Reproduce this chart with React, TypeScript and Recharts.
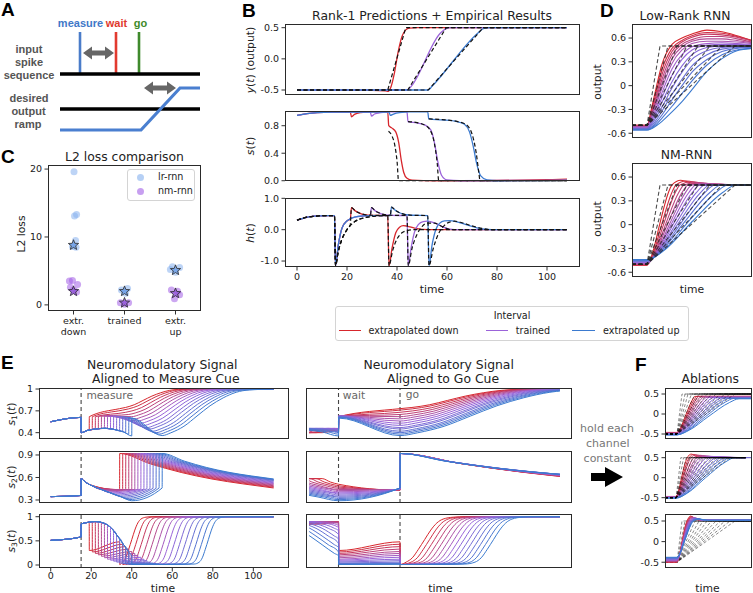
import React from 'react';
import { LineChart, Line, XAxis, YAxis, ReferenceLine, ScatterChart, Scatter, ComposedChart } from 'recharts';

const DV = '"DejaVu Sans", sans-serif';
const AR = '"Liberation Sans", Arial, sans-serif';
const INK = '#1a1a1a';
const RED = '#d7262c';
const PURPLE = '#9b63d9';
const BLUE = '#3b7acf';

// ---------------- Panel A (schematic, chart units = px inside the panel) ----------------
const A_INPUT = [[5, 46], [145, 46]];
const A_MEASURE = [[25, 4], [25, 45]];
const A_WAIT = [[61, 4], [61, 45]];
const A_GO = [[84, 4], [84, 45]];
const A_OUTPUT = [[5, 81], [145, 81]];
const A_RAMP = [[5, 102], [86, 102], [125, 60], [145, 60]];
const A_ARROWS = [{ x: 43.5, y: 25, len: 31 }, { x: 105, y: 60, len: 32 }];

// ---------------- Panel B ----------------
const B_TICKS_X = [0, 20, 40, 60, 80, 100];
const B_Y_RED = [[0, -0.5], [30, -0.505], [35.5, -0.515], [36.5, -0.52], [37.5, -0.46], [39, -0.22], [40.5, 0.12], [42, 0.36], [43.5, 0.465], [45, 0.493], [48, 0.5], [108, 0.5]];
const B_Y_RED_T = [[0, -0.5], [36.3, -0.5], [43.5, 0.5], [108, 0.5]];
const B_Y_PURPLE = [[0, -0.5], [44, -0.5], [45, -0.47], [57.5, 0.42], [59.5, 0.48], [61.5, 0.5], [108, 0.5]];
const B_Y_PURPLE_T = [[0, -0.5], [44.3, -0.5], [59.7, 0.5], [108, 0.5]];
const B_Y_BLUE = [[0, -0.5], [52.5, -0.5], [54, -0.44], [72.5, 0.42], [74.5, 0.485], [77, 0.5], [108, 0.5]];
const B_Y_BLUE_T = [[0, -0.5], [52.5, -0.5], [74.5, 0.5], [108, 0.5]];

const B_S_RED = [[0, 0.95], [4, 0.975], [8, 0.99], [14, 0.998], [21.3, 1.0], [21.8, 0.93], [23, 0.965], [25.5, 0.99], [29, 1.0], [36.3, 1.0], [36.7, 0.8], [38, 0.765], [39.5, 0.71], [40.7, 0.55], [41.7, 0.3], [42.7, 0.12], [44, 0.035], [46, 0.008], [55, 0.0], [80, 0.004], [100, 0.015], [108, 0.022]];
const B_S_RED_T = [[36.6, 0.72], [38, 0.65], [39.2, 0.5], [40.1, 0.25], [40.6, 0.0], [108, 0.0]];
const B_S_PURPLE = [[0, 0.95], [4, 0.975], [8, 0.99], [14, 0.998], [29.3, 1.0], [29.8, 0.94], [31, 0.97], [33.5, 0.99], [37, 1.0], [44, 1.0], [44.4, 0.86], [48, 0.84], [51.5, 0.805], [53.5, 0.74], [55, 0.55], [56.3, 0.28], [57.8, 0.08], [60, 0.012], [65, 0.0], [108, 0.008]];
const B_S_PURPLE_T = [[44.4, 0.86], [48, 0.845], [51, 0.81], [53, 0.75], [54.8, 0.57], [56.1, 0.25], [56.7, 0.0], [108, 0.0]];
const B_S_BLUE = [[0, 0.95], [4, 0.975], [8, 0.99], [14, 0.998], [36.8, 1.0], [37.3, 0.95], [38.6, 0.97], [41, 0.99], [45, 1.0], [52.3, 1.0], [52.7, 0.9], [58, 0.885], [64, 0.86], [67, 0.82], [69, 0.71], [70.5, 0.5], [71.8, 0.26], [73.5, 0.07], [76, 0.012], [80, 0.0], [108, 0.004]];
const B_S_BLUE_T = [[52.7, 0.9], [58, 0.888], [64, 0.862], [67.5, 0.82], [70, 0.68], [71.7, 0.4], [72.8, 0.1], [73.2, 0.0], [108, 0.0]];

const B_H_START = [[0, 0.3], [3, 0.38], [7, 0.43], [12, 0.45], [15, 0.45], [15.4, -1.15], [16.5, -0.5], [18, 0.05], [20, 0.28]];
const B_H_RED = [...B_H_START, [21.3, 0.33], [21.8, 0.7], [23.3, 0.6], [25, 0.53], [27, 0.48], [30, 0.455], [36.3, 0.45], [36.8, -1.15], [38, -0.6], [39.5, -0.1], [41, 0.08], [42.5, 0.13], [44, 0.115], [47, 0.05], [50, 0.012], [55, 0.0], [108, 0.0]];
const B_H_PURPLE = [...B_H_START, [23, 0.4], [27, 0.44], [29.3, 0.45], [29.8, 0.7], [31.3, 0.6], [33, 0.53], [35, 0.48], [38, 0.455], [44, 0.45], [44.5, -1.15], [45.6, -0.6], [47, -0.08], [48.5, 0.16], [50.5, 0.26], [52, 0.27], [55, 0.22], [58, 0.1], [61, 0.02], [65, 0.0], [108, 0.0]];
const B_H_BLUE = [...B_H_START, [23, 0.4], [27, 0.44], [30, 0.45], [37.3, 0.45], [37.8, 0.72], [39.3, 0.62], [41, 0.54], [43, 0.49], [46, 0.46], [52.3, 0.45], [52.8, -1.15], [54, -0.5], [55.5, 0.0], [57, 0.2], [59, 0.28], [61, 0.29], [64, 0.25], [68, 0.15], [72, 0.06], [76, 0.012], [80, 0.0], [108, 0.0]];
const B_HT_START = [[0, 0.3], [3, 0.38], [7, 0.43], [12, 0.45], [15, 0.45], [15.4, -1.15], [16.5, -0.7], [18, -0.3], [20, 0.0]];
const B_H_RED_T = [...B_HT_START, [21.3, 0.15], [21.8, 0.7], [23.3, 0.6], [25, 0.53], [27, 0.48], [30, 0.46], [36.3, 0.45], [36.8, -1.15], [38.3, -0.65], [40, -0.3], [42, -0.1], [44, -0.03], [47, 0.0], [108, 0.0]];
const B_H_PURPLE_T = [...B_HT_START, [23, 0.25], [27, 0.38], [29.3, 0.42], [29.8, 0.7], [31.3, 0.6], [33, 0.53], [35, 0.48], [38, 0.46], [44, 0.45], [44.5, -1.15], [46, -0.6], [48, -0.15], [50, 0.1], [52, 0.21], [55, 0.21], [58, 0.1], [62, 0.0], [108, 0.0]];
const B_H_BLUE_T = [...B_HT_START, [23, 0.25], [27, 0.38], [30, 0.42], [35, 0.445], [37.3, 0.45], [37.8, 0.72], [39.3, 0.62], [41, 0.54], [43, 0.49], [46, 0.46], [52.3, 0.45], [52.8, -1.15], [54.5, -0.6], [56.5, -0.15], [58.5, 0.1], [61, 0.24], [63, 0.27], [66, 0.22], [70, 0.12], [74, 0.04], [78, 0.0], [108, 0.0]];

// ---------------- Panel C ----------------
const C_CATEGORIES = [['extr.', 'down'], ['trained'], ['extr.', 'up']];
const C_LR = [
  { x: 0.01, y: 19.6 }, { x: 0.06, y: 13.3 }, { x: 0.02, y: 13.1 }, { x: 0.04, y: 9.5 }, { x: -0.02, y: 8.6 }, { x: 0.05, y: 8.5 },
  { x: 0.94, y: 2.2 }, { x: 1.06, y: 2.4 }, { x: 1.02, y: 1.7 },
  { x: 1.94, y: 5.6 }, { x: 2.08, y: 5.5 }, { x: 2.0, y: 4.8 }, { x: 1.9, y: 5.2 },
];
const C_NM = [
  { x: -0.08, y: 3.5 }, { x: -0.02, y: 3.6 }, { x: 0.08, y: 3.0 }, { x: 0.0, y: 2.2 }, { x: 0.06, y: 1.9 }, { x: -0.06, y: 2.6 },
  { x: 0.92, y: 0.3 }, { x: 1.08, y: 0.3 }, { x: 1.0, y: 0.1 },
  { x: 1.92, y: 2.2 }, { x: 2.08, y: 1.5 }, { x: 1.98, y: 0.9 }, { x: 2.04, y: 2.0 },
];
const C_LR_MEDIAN = [{ x: 0, y: 8.8 }, { x: 1, y: 2.0 }, { x: 2, y: 5.1 }];
const C_NM_MEDIAN = [{ x: 0, y: 2.0 }, { x: 1, y: 0.3 }, { x: 2, y: 1.7 }];

// ---------------- Panel D ----------------
const D_GO = 15;
const D_END = 120;
const D_T = [0, 15, 20, 25, 30, 40, 50, 60, 75, 90, 105, 120];
const D_LR = [
  [-0.50, -0.50, -0.26, 0.02, 0.27, 0.52, 0.60, 0.65, 0.70, 0.68, 0.63, 0.57],
  [-0.50, -0.50, -0.29, -0.04, 0.20, 0.47, 0.57, 0.63, 0.67, 0.66, 0.62, 0.57],
  [-0.51, -0.51, -0.32, -0.09, 0.14, 0.43, 0.55, 0.61, 0.65, 0.64, 0.61, 0.56],
  [-0.51, -0.51, -0.34, -0.13, 0.08, 0.39, 0.52, 0.58, 0.62, 0.62, 0.59, 0.55],
  [-0.52, -0.52, -0.36, -0.17, 0.03, 0.34, 0.49, 0.56, 0.59, 0.59, 0.57, 0.54],
  [-0.52, -0.52, -0.38, -0.21, -0.03, 0.28, 0.45, 0.53, 0.56, 0.56, 0.55, 0.53],
  [-0.53, -0.53, -0.41, -0.26, -0.09, 0.21, 0.39, 0.49, 0.53, 0.54, 0.53, 0.52],
  [-0.53, -0.53, -0.43, -0.30, -0.15, 0.13, 0.33, 0.45, 0.51, 0.52, 0.52, 0.51],
  [-0.54, -0.54, -0.46, -0.34, -0.21, 0.05, 0.25, 0.39, 0.48, 0.50, 0.50, 0.50],
  [-0.54, -0.54, -0.48, -0.38, -0.27, -0.03, 0.17, 0.33, 0.44, 0.48, 0.49, 0.49],
  [-0.55, -0.55, -0.50, -0.42, -0.32, -0.11, 0.08, 0.25, 0.39, 0.46, 0.48, 0.48],
  [-0.55, -0.55, -0.52, -0.45, -0.37, -0.18, 0.00, 0.17, 0.33, 0.43, 0.47, 0.48],
  [-0.56, -0.56, -0.53, -0.48, -0.41, -0.26, -0.10, 0.06, 0.26, 0.39, 0.45, 0.47],
  [-0.56, -0.56, -0.54, -0.50, -0.45, -0.33, -0.20, -0.05, 0.18, 0.34, 0.44, 0.47],
];
const D_TARGET_END = [28, 36, 45, 55, 66, 78, 90, 103];
const NM_START = [-0.51, -0.51, -0.5, -0.5, -0.49, -0.49, -0.48, -0.48, -0.47, -0.46, -0.46, -0.45, -0.45, -0.44];
const NM_REACH = [40, 44, 48, 52, 56, 60, 64, 68, 73, 78, 83, 89, 96, 104];
const NM_OVER = [0.06, 0.05, 0.04, 0.03, 0.02, 0.012, 0.006, 0, 0, 0, 0, 0, 0, 0];

// ---------------- Panel E ----------------
const E_WAIT = [19, 20.5, 22, 23.5, 25, 26.5, 28, 29.5, 31, 32.5, 34, 35.5, 37, 38.5, 40];
const E_GO_DELAY = 15;
const E_END = 110;
const E_WAIT_POS = 4; // position of wait cue on the aligned axis
const E_N = E_WAIT.length;

const S1_PRE = [[0, 0.55], [15, 0.61]];
const S1_PATH = [[15.01, 0.40], [18, 0.43], [22, 0.45], [27, 0.46], [32, 0.44], [36, 0.41], [40, 0.355]];
const S1_AT_WAIT = [0.435, 0.443, 0.45, 0.453, 0.456, 0.459, 0.456, 0.45, 0.444, 0.436, 0.425, 0.414, 0.4, 0.38, 0.355];
const S1_JUMP = [0.62, 0.62, 0.62, 0.625, 0.63, 0.63, 0.63, 0.63, 0.63, 0.625, 0.62, 0.62, 0.615, 0.61, 0.6];
const S1_AT_GO = [0.73, 0.71, 0.68, 0.65, 0.62, 0.59, 0.56, 0.53, 0.5, 0.47, 0.45, 0.42, 0.4, 0.38, 0.36];
const S1_RISE_DUR = [29, 30, 31, 32, 33, 34, 35, 36, 37, 38, 39, 40, 41, 42, 43];
const S1_RISE = [[0.1, 0.06], [0.25, 0.2], [0.4, 0.42], [0.55, 0.64], [0.7, 0.81], [0.85, 0.93], [1, 0.98]];

const S2_PRE = [[0, 0.345], [15, 0.36]];
const S2_PATH = [[15.01, 0.585], [17, 0.54], [20, 0.495], [25, 0.44], [30, 0.39], [35, 0.34], [40, 0.29]];
const S2_AT_WAIT = [0.51, 0.49, 0.472, 0.456, 0.44, 0.425, 0.41, 0.395, 0.38, 0.365, 0.35, 0.335, 0.32, 0.305, 0.29];
const S2_BEFORE_GO = [0.43, 0.43, 0.435, 0.435, 0.44, 0.44, 0.44, 0.445, 0.445, 0.45, 0.45, 0.455, 0.455, 0.46, 0.46];
const S2_PEAK = 0.92;
const S2_FINAL = [0.46, 0.47, 0.48, 0.49, 0.5, 0.51, 0.52, 0.53, 0.54, 0.55, 0.56, 0.565, 0.57, 0.575, 0.58];
const S2_DECAY = [[0.2, 0.3], [0.4, 0.55], [0.6, 0.74], [0.8, 0.88], [1, 1]];

const S3_PRE = [[0, 0.51], [15, 0.58]];
const S3_PATH = [[15.01, 0.85], [18, 0.88], [22, 0.9], [26, 0.87], [30, 0.76], [33, 0.6], [36, 0.42], [39, 0.24], [42, 0.1], [45, 0.03], [48, 0.005]];
const S3_AT_WAIT = [0.885, 0.895, 0.9, 0.89, 0.88, 0.86, 0.82, 0.78, 0.71, 0.63, 0.54, 0.45, 0.36, 0.27, 0.19];
const S3_AFTER_WAIT = [0.3, 0.27, 0.24, 0.21, 0.18, 0.15, 0.12, 0.1, 0.08, 0.06, 0.04, 0.03, 0.02, 0.015, 0.01];
const S3_BEFORE_GO = [0.48, 0.43, 0.38, 0.33, 0.28, 0.24, 0.2, 0.16, 0.12, 0.09, 0.06, 0.04, 0.03, 0.02, 0.015];
const S3_AFTER_GO = 0.01;
const S3_MID = [6, 7.2, 8.4, 9.6, 10.8, 12, 13.2, 14.4, 15.6, 16.8, 18, 19.2, 20.4, 21.6, 22.8];
const S3_SIG = [[-7, 0.01], [-4.5, 0.05], [-3, 0.14], [-1.5, 0.32], [0, 0.52], [1.5, 0.72], [3, 0.87], [4.5, 0.95], [7, 0.99], [10, 1.0]];

// ---------------- Panel F ----------------
const F_GO = 12;
const F_END = 87;
const F_TARGET_END = [17, 20, 23, 26.5, 30, 34, 38, 42, 46.5, 51, 55.5, 60, 65, 70];
const F1_START = [-0.46, -0.47, -0.47, -0.48, -0.48, -0.49, -0.49, -0.5, -0.5, -0.51, -0.51, -0.52, -0.52, -0.52];
const F1_REACH = [30, 32, 34, 36, 39, 42, 45, 48, 52, 56, 60, 64, 69, 74];
const F1_LEVEL = [0.44, 0.44, 0.44, 0.43, 0.43, 0.42, 0.42, 0.41, 0.41, 0.4, 0.4, 0.39, 0.39, 0.38];
const F2_START = [-0.47, -0.47, -0.48, -0.48, -0.48, -0.49, -0.49, -0.49, -0.5, -0.5, -0.5, -0.5, -0.51, -0.51];
const F2_REACH = [24, 26, 28, 31, 34, 37, 41, 45, 50, 55, 60, 65, 70, 75];
const F2_OVER = [0.09, 0.08, 0.07, 0.06, 0.05, 0.04, 0.03, 0.02, 0.01, 0.005, 0, 0, 0, 0];
const F3_START = [-0.5, -0.5, -0.49, -0.48, -0.47, -0.46, -0.45, -0.44, -0.43, -0.42, -0.41, -0.4, -0.39, -0.38];
const F3_REACH = [22, 22.5, 23, 23.5, 24, 24.5, 25, 25.5, 26, 26.5, 27, 27.5, 28, 28.5];
const F3_OVER = [0.12, 0.11, 0.1, 0.09, 0.085, 0.08, 0.075, 0.07, 0.065, 0.06, 0.055, 0.05, 0.05, 0.05];

// ---------------- helpers ----------------
function mix(a: string, b: string, t: number) {
  const pa = [1, 3, 5].map((k) => parseInt(a.slice(k, k + 2), 16));
  const pb = [1, 3, 5].map((k) => parseInt(b.slice(k, k + 2), 16));
  return 'rgb(' + pa.map((v, j) => Math.round(v + (pb[j] - v) * t)).join(',') + ')';
}
function fam(i: number, n: number) {
  const t = i / (n - 1);
  return t < 0.5 ? mix(RED, PURPLE, t * 2) : mix(PURPLE, BLUE, (t - 0.5) * 2);
}
function ramp(go: number, S: number, R: number, L: number, O: number, Lend: number, tEnd: number) {
  const d = R - go;
  const p: number[][] = [[0, S], [go, S], [go + 0.2 * d, S + 0.13 * (L - S)], [go + 0.5 * d, S + 0.5 * (L - S)], [go + 0.85 * d, S + 0.9 * (L - S)], [R, L]];
  if (O > 0) p.push([R + 0.35 * d, L + O], [R + 0.9 * d, L + 0.3 * O]);
  p.push([tEnd, Lend]);
  return p;
}
function align(pts: number[][], w: number, aligned: boolean) {
  return aligned ? pts.map(([t, y]) => [t - w + E_WAIT_POS, y]) : pts;
}
function buildS1(i: number, aligned: boolean) {
  const w = E_WAIT[i], g = w + E_GO_DELAY, v = S1_AT_GO[i], d = S1_RISE_DUR[i];
  const head = aligned ? [[0, S1_PATH[0][1]]] : S1_PRE;
  const pts = [
    ...head,
    ...S1_PATH.filter((p) => p[0] < w - 0.3),
    [w, S1_AT_WAIT[i]],
    [w + 0.05, S1_JUMP[i]],
    [g, v],
    ...S1_RISE.map(([u, f]) => [g + u * d, v + f * (1 - v)]),
    [E_END, 1],
  ];
  return align(pts, w, aligned);
}
function buildS2(i: number, aligned: boolean) {
  const w = E_WAIT[i], g = w + E_GO_DELAY;
  const head = aligned ? [[0, S2_PATH[0][1]]] : S2_PRE;
  const pts = [
    ...head,
    ...S2_PATH.filter((p) => p[0] < w - 0.3),
    [w, S2_AT_WAIT[i]],
    [g, S2_BEFORE_GO[i]],
    [g + 0.05, S2_PEAK],
    ...S2_DECAY.map(([u, f]) => [g + u * (E_END - g), S2_PEAK - f * (S2_PEAK - S2_FINAL[i])]),
  ];
  return align(pts, w, aligned);
}
function buildS3(i: number, aligned: boolean) {
  const w = E_WAIT[i], g = w + E_GO_DELAY, m = S3_MID[i];
  const head = aligned ? [[0, S3_PATH[0][1]]] : S3_PRE;
  const pts = [
    ...head,
    ...S3_PATH.filter((p) => p[0] < w - 0.3),
    [w, S3_AT_WAIT[i]],
    [w + 0.05, S3_AFTER_WAIT[i]],
    [g, S3_BEFORE_GO[i]],
    [g + 0.05, S3_AFTER_GO],
    ...S3_SIG.filter(([dt]) => m + dt > 0.4).map(([dt, f]) => [g + m + dt, S3_AFTER_GO + f * (1 - S3_AFTER_GO)]),
    [E_END, 1],
  ];
  return align(pts, w, aligned);
}

type Ser = { pts: number[][]; color: string; w?: number; dash?: string; op?: number; lin?: boolean };

const bY: Ser[] = [
  { pts: B_Y_RED, color: RED, w: 1.3 }, { pts: B_Y_PURPLE, color: PURPLE, w: 1.3 }, { pts: B_Y_BLUE, color: BLUE, w: 1.3 },
  { pts: B_Y_RED_T, color: '#111', dash: '4 2.5', lin: true, w: 1.2 }, { pts: B_Y_PURPLE_T, color: '#111', dash: '4 2.5', lin: true, w: 1.2 }, { pts: B_Y_BLUE_T, color: '#111', dash: '4 2.5', lin: true, w: 1.2 },
];
const bS: Ser[] = [
  { pts: B_S_RED, color: RED, w: 1.3 }, { pts: B_S_PURPLE, color: PURPLE, w: 1.3 }, { pts: B_S_BLUE, color: BLUE, w: 1.3 },
  { pts: B_S_RED_T, color: '#111', dash: '4 2.5', w: 1.2 }, { pts: B_S_PURPLE_T, color: '#111', dash: '4 2.5', w: 1.2 }, { pts: B_S_BLUE_T, color: '#111', dash: '4 2.5', w: 1.2 },
];
const bH: Ser[] = [
  { pts: B_H_RED, color: RED, w: 1.3 }, { pts: B_H_PURPLE, color: PURPLE, w: 1.3 }, { pts: B_H_BLUE, color: BLUE, w: 1.3 },
  { pts: B_H_RED_T, color: '#111', dash: '4 2.5', w: 1.2 }, { pts: B_H_PURPLE_T, color: '#111', dash: '4 2.5', w: 1.2 }, { pts: B_H_BLUE_T, color: '#111', dash: '4 2.5', w: 1.2 },
];

const dTargets: Ser[] = D_TARGET_END.map((T) => ({ pts: [[0, -0.5], [D_GO, -0.5], [T, 0.5], [D_END, 0.5]], color: '#222', dash: '4 2.5', lin: true, op: 0.8, w: 1.1 }));
const dLR: Ser[] = [...D_LR.map((row, i) => ({ pts: row.map((v, k) => [D_T[k], v]), color: fam(i, D_LR.length), w: 1.1 })), ...dTargets];
const dNM: Ser[] = [...NM_REACH.map((R, i) => ({ pts: ramp(D_GO, NM_START[i], R, 0.5, NM_OVER[i], 0.5, D_END), color: fam(i, NM_REACH.length), w: 1.1 })), ...dTargets];

const fTargets: Ser[] = F_TARGET_END.map((T) => ({ pts: [[0, -0.5], [F_GO, -0.5], [T, 0.5], [F_END, 0.5]], color: '#000', dash: '3 2', lin: true, op: 0.45, w: 1 }));
const f1: Ser[] = [...F1_REACH.map((R, i) => ({ pts: ramp(F_GO, F1_START[i], R, F1_LEVEL[i], 0, F1_LEVEL[i], F_END), color: fam(i, 14), w: 1 })), ...fTargets];
const f2: Ser[] = [...F2_REACH.map((R, i) => ({ pts: ramp(F_GO, F2_START[i], R, 0.5, F2_OVER[i], 0.5, F_END), color: fam(i, 14), w: 1 })), ...fTargets];
const f3: Ser[] = [...fTargets, ...F3_REACH.map((R, i) => ({ pts: ramp(F_GO, F3_START[i], R, 0.5, F3_OVER[i], 0.52, F_END), color: fam(i, 14), w: 1 }))];

const eIdx = E_WAIT.map((_, i) => i);
const e1L: Ser[] = eIdx.map((i) => ({ pts: buildS1(i, false), color: fam(i, E_N), w: 1 }));
const e2L: Ser[] = eIdx.map((i) => ({ pts: buildS2(i, false), color: fam(i, E_N), w: 1 }));
const e3L: Ser[] = eIdx.map((i) => ({ pts: buildS3(i, false), color: fam(i, E_N), w: 1 }));
const e1R: Ser[] = eIdx.map((i) => ({ pts: buildS1(i, true), color: fam(i, E_N), w: 1 }));
const e2R: Ser[] = eIdx.map((i) => ({ pts: buildS2(i, true), color: fam(i, E_N), w: 1 }));
const e3R: Ser[] = eIdx.map((i) => ({ pts: buildS3(i, true), color: fam(i, E_N), w: 1 }));

const TICK = { fontSize: 9.5, fill: '#222', fontFamily: DV };
const TL = { stroke: INK, strokeWidth: 0.9 };
const fmt1 = (v: number) => v.toFixed(1);
const fmtInt = (v: number) => String(v);
const fmtE1 = (v: number) => (v === 1 ? '1' : v.toFixed(1));
const fmtE3 = (v: number) => (v === 0.5 ? '0.5' : String(v));
const fmtZ = (v: number) => (v === 0 ? '0' : v.toFixed(1));

function Plot(p: any) {
  const { l, t, w, h, xd, yd, xt, yt, xf, yf, series, refs, clip, frame, xtm } = p;
  const YW = 40, MT = 9, MR = 3;
  const XH = xf ? 24 : 8;
  const fr = frame || { l, t, w, h };
  return (
    <>
      <div style={{ position: 'absolute', left: l - YW, top: t - MT }}>
        <LineChart width={w + YW + MR} height={h + MT + XH} margin={{ top: MT, right: MR, bottom: 0, left: 0 }}>
          <XAxis type="number" dataKey="x" domain={xd} ticks={xt} interval={0} allowDataOverflow={!!clip} height={XH}
            axisLine={false} tickSize={3.5} tickMargin={xtm ?? 2.5} tickLine={TL} tick={xf ? TICK : false} tickFormatter={xf} />
          <YAxis type="number" dataKey="y" domain={yd} ticks={yt || []} interval={0} width={YW}
            axisLine={false} tickSize={3.5} tickMargin={2.5} tickLine={yt ? TL : false} tick={yf ? TICK : false} tickFormatter={yf} />
          {(refs || []).map((x: number) => (
            <ReferenceLine key={'r' + x} x={x} stroke="#444" strokeDasharray="4 3" strokeWidth={1.1} />
          ))}
          {series.map((s: Ser, i: number) => (
            <Line key={i} data={s.pts.map(([x, y]) => ({ x, y }))} dataKey="y" type={s.lin ? 'linear' : 'monotone'}
              stroke={s.color} strokeWidth={s.w ?? 1} strokeDasharray={s.dash} strokeOpacity={s.op ?? 1}
              dot={false} activeDot={false} isAnimationActive={false} />
          ))}
        </LineChart>
      </div>
      <div style={{ position: 'absolute', left: fr.l, top: fr.t, width: fr.w, height: fr.h, border: '1px solid #2a2a2a', boxSizing: 'border-box', pointerEvents: 'none' }} />
    </>
  );
}

const Txt = ({ x, y, children, size = 12.4, color = '#222', font = DV, weight = 'normal', rot = false, anchor = 'middle' }: any) => (
  <div style={{
    position: 'absolute', left: x, top: y,
    transform: `translate(${anchor === 'start' ? '0' : '-50%'},-50%)${rot ? ' rotate(-90deg)' : ''}`,
    fontSize: size, color, fontFamily: font, fontWeight: weight, lineHeight: 1, whiteSpace: 'nowrap',
  }}>{children}</div>
);
const PanelLabel = ({ x, y, children }: any) => (
  <div style={{ position: 'absolute', left: x, top: y, fontSize: 19, fontWeight: 'bold', fontFamily: AR, lineHeight: 1, color: '#000' }}>{children}</div>
);
const Sub = ({ n }: any) => <span style={{ fontSize: '0.7em', verticalAlign: '-0.3em', fontStyle: 'normal' }}>{n}</span>;

const dblArrow = (color: string, th: number, hl: number, hh: number) => (props: any) => {
  const { cx, cy, payload } = props;
  const h = payload.len / 2;
  const d = `M${cx - h},${cy} L${cx - h + hl},${cy - hh / 2} L${cx - h + hl},${cy - th / 2} L${cx + h - hl},${cy - th / 2} L${cx + h - hl},${cy - hh / 2} L${cx + h},${cy} L${cx + h - hl},${cy + hh / 2} L${cx + h - hl},${cy + th / 2} L${cx - h + hl},${cy + th / 2} L${cx - h + hl},${cy + hh / 2} Z`;
  return <path d={d} fill={color} />;
};
const bigArrow = (props: any) => {
  const { cx, cy } = props;
  const pts = [[cx - 16, cy - 4], [cx - 2, cy - 4], [cx - 2, cy - 10], [cx + 16, cy], [cx - 2, cy + 10], [cx - 2, cy + 4], [cx - 16, cy + 4]];
  return <polygon points={pts.map((q) => q.join(',')).join(' ')} fill="#000" />;
};
const dot = (color: string) => (props: any) => <circle cx={props.cx} cy={props.cy} r={3.5} fill={color} fillOpacity={0.55} />;
const star = (color: string) => (props: any) => {
  const { cx, cy } = props;
  const pts: string[] = [];
  for (let k = 0; k < 10; k++) {
    const a = -Math.PI / 2 + (k * Math.PI) / 5;
    const r = k % 2 ? 2.3 : 5.4;
    pts.push(`${cx + r * Math.cos(a)},${cy + r * Math.sin(a)}`);
  }
  return <polygon points={pts.join(' ')} fill={color} fillOpacity={0.85} stroke="#2a2a2a" strokeWidth={0.8} />;
};
const CatTick = (props: any) => {
  const { x, y, payload } = props;
  const lines = C_CATEGORIES[Math.round(payload.value)] || [];
  return (
    <text x={x} y={y} textAnchor="middle" fontSize={9.5} fontFamily={DV} fill="#222">
      {lines.map((s, k) => <tspan key={k} x={x} dy={k === 0 ? '0.71em' : '1.15em'}>{s}</tspan>)}
    </text>
  );
};

const LR_C = '#86b1ee';
const NM_C = '#a25fe6';

export default function App() {
  const eLeft = { l: 39, w: 250, xd: [-5.78, 117.6], xt: [0, 20, 40, 60, 80, 100] };
  const eRight = { l: 308.9, w: 250.9, xd: [-3.2, 58], xt: [0, 20, 40] };
  const fX = { l: 665, w: 87, xd: [0, 87], xt: [12, 62] };
  return (
    <div style={{ position: 'absolute', left: 0, top: 0, width: 753, height: 593, overflow: 'hidden', background: '#fff', fontFamily: DV }}>
      {/* ---------- Panel A ---------- */}
      <PanelLabel x={1} y={0}>A</PanelLabel>
      <div style={{ position: 'absolute', left: 55, top: 28 }}>
        <ComposedChart width={145} height={110} margin={{ top: 0, right: 0, bottom: 0, left: 0 }}>
          <XAxis type="number" dataKey="x" domain={[0, 145]} hide />
          <YAxis type="number" dataKey="y" domain={[0, 110]} reversed hide />
          <Line data={A_MEASURE.map(([x, y]) => ({ x, y }))} dataKey="y" type="linear" stroke="#4a7cc9" strokeWidth={2.6} dot={false} isAnimationActive={false} />
          <Line data={A_WAIT.map(([x, y]) => ({ x, y }))} dataKey="y" type="linear" stroke="#e23a2f" strokeWidth={2.6} dot={false} isAnimationActive={false} />
          <Line data={A_GO.map(([x, y]) => ({ x, y }))} dataKey="y" type="linear" stroke="#3f8a2c" strokeWidth={2.6} dot={false} isAnimationActive={false} />
          <Line data={A_INPUT.map(([x, y]) => ({ x, y }))} dataKey="y" type="linear" stroke="#000" strokeWidth={3.5} dot={false} isAnimationActive={false} />
          <Line data={A_OUTPUT.map(([x, y]) => ({ x, y }))} dataKey="y" type="linear" stroke="#000" strokeWidth={3.5} dot={false} isAnimationActive={false} />
          <Line data={A_RAMP.map(([x, y]) => ({ x, y }))} dataKey="y" type="linear" stroke="#4a7fd0" strokeWidth={3.2} dot={false} isAnimationActive={false} />
          <Scatter data={A_ARROWS} shape={dblArrow('#666', 5, 9, 13)} isAnimationActive={false} />
        </ComposedChart>
      </div>
      <Txt x={80.5} y={23} size={11} weight="bold" font={AR} color="#3f78c8">measure</Txt>
      <Txt x={116.5} y={23} size={11} weight="bold" font={AR} color="#e03a2e">wait</Txt>
      <Txt x={140.5} y={22.5} size={11} weight="bold" font={AR} color="#3e8a2a">go</Txt>
      <Txt x={29} y={48.5} size={11} weight="bold" font={AR} color="#555">input</Txt>
      <Txt x={29} y={62} size={11} weight="bold" font={AR} color="#555">spike</Txt>
      <Txt x={29} y={75} size={11} weight="bold" font={AR} color="#555">sequence</Txt>
      <Txt x={29} y={97.5} size={11} weight="bold" font={AR} color="#555">desired</Txt>
      <Txt x={28.5} y={110.5} size={11} weight="bold" font={AR} color="#555">output</Txt>
      <Txt x={28} y={123.5} size={11} weight="bold" font={AR} color="#555">ramp</Txt>

      {/* ---------- Panel C ---------- */}
      <PanelLabel x={1} y={147}>C</PanelLabel>
      <Txt x={124.5} y={157}>L2 loss comparison</Txt>
      <div style={{ position: 'absolute', left: 48 - 30, top: 165 - 8 }}>
        <ScatterChart width={153 + 30 + 3} height={146 + 8 + 36} margin={{ top: 8, right: 3, bottom: 0, left: 0 }}>
          <XAxis type="number" dataKey="x" domain={[-0.5, 2.5]} ticks={[0, 1, 2]} interval={0} height={36} axisLine={false}
            tickSize={3.5} tickMargin={2.5} tickLine={TL} tick={<CatTick />} />
          <YAxis type="number" dataKey="y" domain={[-0.9, 20.6]} ticks={[0, 10, 20]} interval={0} width={30} axisLine={false}
            tickSize={3.5} tickMargin={2.5} tickLine={TL} tick={TICK} />
          <Scatter data={C_LR} shape={dot(LR_C)} isAnimationActive={false} />
          <Scatter data={C_NM} shape={dot(NM_C)} isAnimationActive={false} />
          <Scatter data={C_LR_MEDIAN} shape={star('#6f9fe6')} isAnimationActive={false} />
          <Scatter data={C_NM_MEDIAN} shape={star('#9358d8')} isAnimationActive={false} />
        </ScatterChart>
      </div>
      <div style={{ position: 'absolute', left: 48, top: 165, width: 153, height: 146, border: '1px solid #2a2a2a', boxSizing: 'border-box' }} />
      <Txt x={21.7} y={234} size={10.8} rot>L2 loss</Txt>
      <div style={{ position: 'absolute', left: 127, top: 169, width: 68, height: 32, border: '1px solid #d4d4d4', borderRadius: 3, boxSizing: 'border-box', background: 'rgba(255,255,255,0.85)' }} />
      <div style={{ position: 'absolute', left: 136.5, top: 173.5, width: 7, height: 7, borderRadius: 4, background: LR_C, opacity: 0.6 }} />
      <div style={{ position: 'absolute', left: 136.5, top: 187.5, width: 7, height: 7, borderRadius: 4, background: NM_C, opacity: 0.6 }} />
      <Txt x={158} y={177} size={9.6} anchor="start">lr-rnn</Txt>
      <Txt x={158} y={191} size={9.6} anchor="start">nm-rnn</Txt>

      {/* ---------- Panel B ---------- */}
      <PanelLabel x={242} y={1}>B</PanelLabel>
      <Txt x={432} y={16}>Rank-1 Predictions + Empirical Results</Txt>
      <Plot l={285} t={24} w={295} h={71} xd={[-4.8, 113.2]} yd={[-0.58, 0.559]} xt={B_TICKS_X} yt={[-0.5, 0, 0.5]} yf={fmt1} series={bY} />
      <Plot l={285} t={111} w={295} h={70} xd={[-4.8, 113.2]} yd={[-0.004, 1.014]} xt={B_TICKS_X} yt={[0, 0.4, 0.8]} yf={fmt1} series={bS} />
      <Plot l={285} t={198} w={295} h={69} xd={[-4.8, 113.2]} yd={[-1.19, 1.01]} xt={B_TICKS_X} yt={[-1, 0, 1]} yf={fmt1} xf={fmtInt} series={bH} />
      <Txt x={251} y={59.5} size={10.8} rot><i>y</i>(<i>t</i>) (output)</Txt>
      <Txt x={251} y={146} size={10.8} rot><i>s</i>(<i>t</i>)</Txt>
      <Txt x={251} y={232.5} size={10.8} rot><i>h</i>(<i>t</i>)</Txt>
      <Txt x={432} y={290} size={10.8}>time</Txt>

      {/* Legend for interval */}
      <div style={{ position: 'absolute', left: 335, top: 306, width: 354, height: 35, border: '1px solid #d4d4d4', borderRadius: 3, boxSizing: 'border-box' }} />
      <Txt x={512} y={315.5} size={9.6}>Interval</Txt>
      <div style={{ position: 'absolute', left: 339, top: 329.5, width: 22, height: 1.5, background: RED }} />
      <Txt x={368.5} y={330.5} size={9.6} anchor="start">extrapolated down</Txt>
      <div style={{ position: 'absolute', left: 486, top: 329.5, width: 22, height: 1.5, background: PURPLE }} />
      <Txt x={515.7} y={330.5} size={9.6} anchor="start">trained</Txt>
      <div style={{ position: 'absolute', left: 572, top: 329.5, width: 23, height: 1.5, background: BLUE }} />
      <Txt x={603} y={330.5} size={9.6} anchor="start">extrapolated up</Txt>

      {/* ---------- Panel D ---------- */}
      <PanelLabel x={600} y={1}>D</PanelLabel>
      <Txt x={685} y={16}>Low-Rank RNN</Txt>
      <Plot l={632} t={24} w={120} h={114} xd={[0, 120]} yd={[-0.66, 0.777]} xt={[17, 52, 87]} yt={[-0.6, -0.3, 0, 0.3, 0.6]} yf={fmtZ} series={dLR} />
      <Txt x={597.5} y={81.5} size={10.8} rot>output</Txt>
      <Txt x={686.5} y={155}>NM-RNN</Txt>
      <Plot l={632} t={163} w={120} h={114} xd={[0, 120]} yd={[-0.66, 0.777]} xt={[17, 52, 87]} yt={[-0.6, -0.3, 0, 0.3, 0.6]} yf={fmtZ} series={dNM} />
      <Txt x={597.5} y={219} size={10.8} rot>output</Txt>
      <Txt x={692} y={290} size={10.8}>time</Txt>

      {/* ---------- Panel E ---------- */}
      <PanelLabel x={1} y={353}>E</PanelLabel>
      <Txt x={162.3} y={364.5}>Neuromodulatory Signal</Txt>
      <Txt x={165.8} y={379}>Aligned to Measure Cue</Txt>
      <Txt x={438.7} y={364.5}>Neuromodulatory Signal</Txt>
      <Txt x={443} y={379}>Aligned to Go Cue</Txt>

      <Plot l={eLeft.l} t={388} w={eLeft.w} h={51} xd={eLeft.xd} yd={[0.313, 1.014]} xt={eLeft.xt} yt={[0.4, 0.7, 1]} yf={fmtE1} series={e1L} refs={[15]} />
      <Plot l={eLeft.l} t={451} w={eLeft.w} h={52} xd={eLeft.xd} yd={[0.26, 0.953]} xt={eLeft.xt} yt={[0.3, 0.6, 0.9]} yf={fmt1} series={e2L} refs={[15]} />
      <Plot l={eLeft.l} t={514} w={eLeft.w} h={54} xd={eLeft.xd} yd={[-0.062, 1.056]} xt={eLeft.xt} yt={[0, 0.5, 1]} yf={fmtE3} xf={fmtInt} xtm={0.5} series={e3L} refs={[15]} />
      <Txt x={13} y={413.5} size={10.8} rot><i>s</i><Sub n="1" />(<i>t</i>)</Txt>
      <Txt x={13} y={477} size={10.8} rot><i>s</i><Sub n="2" />(<i>t</i>)</Txt>
      <Txt x={13} y={541} size={10.8} rot><i>s</i><Sub n="3" />(<i>t</i>)</Txt>
      <Txt x={163} y={588.5} size={10.8}>time</Txt>
      <Txt x={109.7} y={396} size={10.7} color="#666">measure</Txt>

      <Plot l={eRight.l} t={388} w={eRight.w} h={51} xd={eRight.xd} yd={[0.313, 1.014]} xt={eRight.xt} series={e1R} refs={[4, 19]} clip frame={{ l: 306, t: 388, w: 266, h: 51 }} />
      <Plot l={eRight.l} t={451} w={eRight.w} h={52} xd={eRight.xd} yd={[0.26, 0.953]} xt={eRight.xt} series={e2R} refs={[4, 19]} clip frame={{ l: 306, t: 451, w: 266, h: 52 }} />
      <Plot l={eRight.l} t={514} w={eRight.w} h={54} xd={eRight.xd} yd={[-0.062, 1.056]} xt={eRight.xt} series={e3R} refs={[4, 19]} clip frame={{ l: 306, t: 514, w: 266, h: 54 }} />
      <Txt x={354} y={396} size={10.7} color="#666">wait</Txt>
      <Txt x={412.3} y={395} size={10.7} color="#666">go</Txt>
      <Txt x={440.5} y={588.5} size={10.8}>time</Txt>

      {/* hold each channel constant arrow */}
      <Txt x={607} y={427.5} size={11} color="#777">hold each</Txt>
      <Txt x={607.7} y={442.5} size={11} color="#777">channel</Txt>
      <Txt x={607.5} y={457.5} size={11} color="#777">constant</Txt>
      <div style={{ position: 'absolute', left: 585, top: 462 }}>
        <ScatterChart width={45} height={30} margin={{ top: 0, right: 0, bottom: 0, left: 0 }}>
          <XAxis type="number" dataKey="x" domain={[0, 45]} hide />
          <YAxis type="number" dataKey="y" domain={[0, 30]} hide />
          <Scatter data={[{ x: 22, y: 15 }]} shape={bigArrow} isAnimationActive={false} />
        </ScatterChart>
      </div>

      {/* ---------- Panel F ---------- */}
      <PanelLabel x={635} y={355}>F</PanelLabel>
      <Txt x={710.3} y={379}>Ablations</Txt>
      <Plot l={fX.l} t={388} w={fX.w} h={51} xd={fX.xd} yd={[-0.625, 0.65]} xt={fX.xt} yt={[-0.5, 0, 0.5]} yf={fmtZ} series={f1} />
      <Plot l={fX.l} t={451} w={fX.w} h={52} xd={fX.xd} yd={[-0.633, 0.667]} xt={fX.xt} yt={[-0.5, 0, 0.5]} yf={fmtZ} series={f2} />
      <Plot l={fX.l} t={514} w={fX.w} h={54} xd={fX.xd} yd={[-0.64, 0.67]} xt={fX.xt} yt={[-0.5, 0, 0.5]} yf={fmtZ} series={f3} />
      <Txt x={707.5} y={588.5} size={10.8}>time</Txt>
    </div>
  );
}
